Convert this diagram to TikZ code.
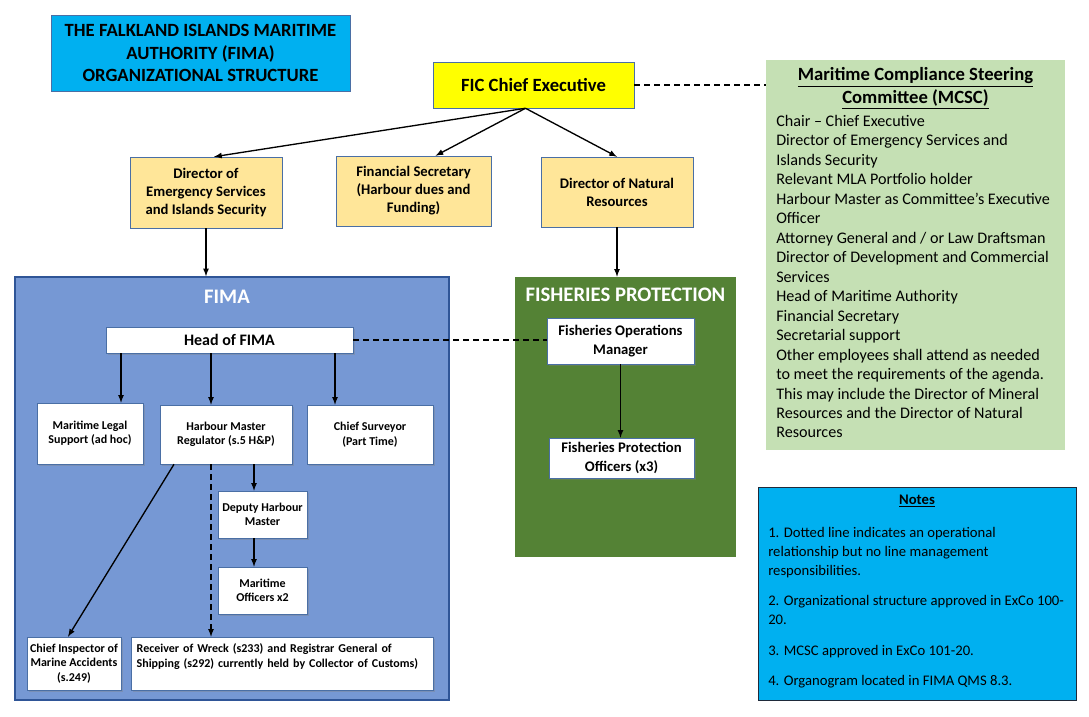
\documentclass[tikz,border=0pt]{standalone}
\usepackage{fontspec}
\setmainfont{Carlito}
\usetikzlibrary{shadows}

\definecolor{titleblue}{HTML}{00B0F0}
\definecolor{boxline}{HTML}{4A6FA5}
\definecolor{fimablue}{HTML}{7698D4}
\definecolor{fimaline}{HTML}{2F5597}
\definecolor{goldbox}{HTML}{FFE699}
\definecolor{chiefyellow}{HTML}{FFFF00}
\definecolor{mcscgreen}{HTML}{C5E0B4}
\definecolor{fishgreen}{HTML}{548235}
\definecolor{notesline}{HTML}{1F2A3A}

\tikzset{
  sized/.style 2 args={minimum width=#1, minimum height=#2},
  arr/.style={-latex, line width=1pt},
  dline/.style={line width=1pt, dash pattern=on 4.5pt off 3pt},
  whitebox/.style={draw=boxline, fill=white, align=center, inner sep=1pt,
    font=\bfseries\fontsize{9}{10.8}\selectfont,
    drop shadow={shadow xshift=1.5pt, shadow yshift=-1.5pt, opacity=0.35}},
  goldnode/.style={draw=boxline, fill=goldbox, align=center, inner sep=1pt,
    font=\bfseries\fontsize{11}{13.5}\selectfont},
  unitbox/.style={inner sep=0pt},
  unittitle/.style={text=white, font=\bfseries\fontsize{15.5}{17}\selectfont}
}

\begin{document}
\begin{tikzpicture}[x=0.75pt, y=-0.75pt]
\useasboundingbox (0,0) rectangle (1089,717);

% heading
\node[draw=boxline, fill=titleblue, sized={224.25pt}{57pt}, align=center,
  font=\bfseries\fontsize{14}{17}\selectfont] (titlebox) at (200.5,53)
  {THE FALKLAND ISLANDS MARITIME\\AUTHORITY (FIMA)\\ORGANIZATIONAL STRUCTURE};

\node[draw=boxline, fill=chiefyellow, sized={150.75pt}{34.5pt},
  font=\bfseries\fontsize{14}{16}\selectfont] (chief) at (533.5,85) {FIC Chief Executive};

% steering committee
\node[fill=mcscgreen, sized={224.25pt}{292.5pt}] (mcsc) at (915.5,255) {};
\node[align=center, font=\bfseries\fontsize{14}{17}\selectfont] (mcsctitle) at (915.5,88.5)
  {\underline{Maritime Compliance Steering}\\\underline{Committee (MCSC)}};
\node[anchor=north west, inner sep=0pt, align=left, font=\fontsize{12.1}{14.6}\selectfont] (mcsctext) at (776,115)
  {Chair -- Chief Executive\\
   Director of Emergency Services and\\
   Islands Security\\
   Relevant MLA Portfolio holder\\
   Harbour Master as Committee’s Executive\\
   Officer\\
   Attorney General and / or Law Draftsman\\
   Director of Development and Commercial\\
   Services\\
   Head of Maritime Authority\\
   Financial Secretary\\
   Secretarial support\\
   Other employees shall attend as needed\\
   to meet the requirements of the agenda.\\
   This may include the Director of Mineral\\
   Resources and the Director of Natural\\
   Resources};

% directors
\node[goldnode, sized={114pt}{53.25pt}] (des) at (206,192.5)
  {Director of\\Emergency Services\\and Islands Security};
\node[goldnode, sized={116.25pt}{52.5pt}] (finsec) at (413.5,191)
  {Financial Secretary\\(Harbour dues and\\Funding)};
\node[goldnode, sized={114pt}{52.5pt}] (dnr) at (617,192)
  {Director of Natural\\Resources};

% FIMA
\node[unitbox, draw=fimaline, line width=1pt, fill=fimablue, sized={325.5pt}{317.25pt}] (fima) at (232,488.5) {};
\node[unittitle] (fimatitle) at (227,297) {FIMA};
\node[whitebox, sized={185.25pt}{19.5pt}, font=\bfseries\fontsize{12}{14}\selectfont] (head) at (229.5,340) {Head of FIMA};
\node[whitebox, sized={79.5pt}{45.75pt}] (legal) at (90,433.5) {Maritime Legal\\Support (ad hoc)};
\node[whitebox, sized={99pt}{44.25pt}] (hm) at (226,434.5) {Harbour Master\\Regulator (s.5 H\&P)};
\node[whitebox, sized={94.5pt}{44.25pt}] (surveyor) at (370,434.5) {Chief Surveyor\\(Part Time)};
\node[whitebox, sized={66.75pt}{35.25pt}] (deputy) at (262.5,514.5) {Deputy Harbour\\Master};
\node[whitebox, sized={66.75pt}{35.25pt}] (officers) at (262.5,590.5) {Maritime\\Officers x2};
\node[whitebox, sized={70.5pt}{39.75pt}] (inspector) at (74,663.5) {Chief Inspector of\\Marine Accidents\\(s.249)};
\node[whitebox, sized={226.5pt}{39.75pt}, text width=218pt, align=left, font=\bfseries\fontsize{9}{11.25}\selectfont] (receiver) at (282,663.5)
  {Receiver of Wreck (s233) and Registrar General of\\Shipping (s292) currently held by Collector of Customs)\\\mbox{}};

% fisheries
\node[unitbox, fill=fishgreen, sized={165.75pt}{210pt}] (fish) at (625.5,417) {};
\node[unittitle] (fishtitle) at (625.5,295) {FISHERIES PROTECTION};
\node[whitebox, sized={110.25pt}{34.5pt}, font=\bfseries\fontsize{11}{14}\selectfont] (fom) at (620.5,341)
  {Fisheries Operations\\Manager};
\node[whitebox, sized={108.75pt}{30pt}, font=\bfseries\fontsize{11}{14}\selectfont] (fpo) at (621.5,458)
  {Fisheries Protection\\Officers (x3)};

% notes
\node[draw=notesline, fill=titleblue, sized={238.5pt}{159.75pt}] (notes) at (917,593.5) {};
\node[font=\bfseries\fontsize{11}{13}\selectfont] (notestitle) at (917,501) {\underline{Notes}};
\node[anchor=north west, inner sep=0pt, align=left, font=\fontsize{11}{14.25}\selectfont] (notestext) at (768,527)
  {1. Dotted line indicates an operational\\
   relationship but no line management\\
   responsibilities.\\[8.5pt]
   2. Organizational structure approved in ExCo 100-\\
   20.\\[8.5pt]
   3. MCSC approved in ExCo 101-20.\\[8.5pt]
   4. Organogram located in FIMA QMS 8.3.};

% connectors
\draw[arr] ([xshift=-6pt]chief.south) -- ([xshift=6pt]des.north);
\draw[arr] ([xshift=-6pt]chief.south) -- ([xshift=16.5pt]finsec.north);
\draw[arr] ([xshift=-6pt]chief.south) -- (dnr.north);
\draw[dline] (chief.east) -- (mcsc.west |- chief.east);
\draw[arr] (des.south) -- (des.south |- fima.north);
\draw[arr] (dnr.south) -- (dnr.south |- fish.north);
\draw[dline] (head.east) -- (fom.west |- head.east);
\draw[arr] (121,0 |- head.south) -- (121,0 |- legal.north);
\draw[arr] (211,0 |- head.south) -- (211,0 |- hm.north);
\draw[arr] (335,0 |- head.south) -- (335,0 |- surveyor.north);
\draw[arr] (254,0 |- hm.south) -- (254,0 |- deputy.north);
\draw[arr] (254,0 |- deputy.south) -- (254,0 |- officers.north);
\draw[arr] (174,0 |- hm.south) -- ([xshift=-4.5pt]inspector.north);
\draw[arr, dline] (211,0 |- hm.south) -- (211,0 |- receiver.north);
\draw[arr] (fom.south) -- (fom.south |- fpo.north);
\end{tikzpicture}
\end{document}
